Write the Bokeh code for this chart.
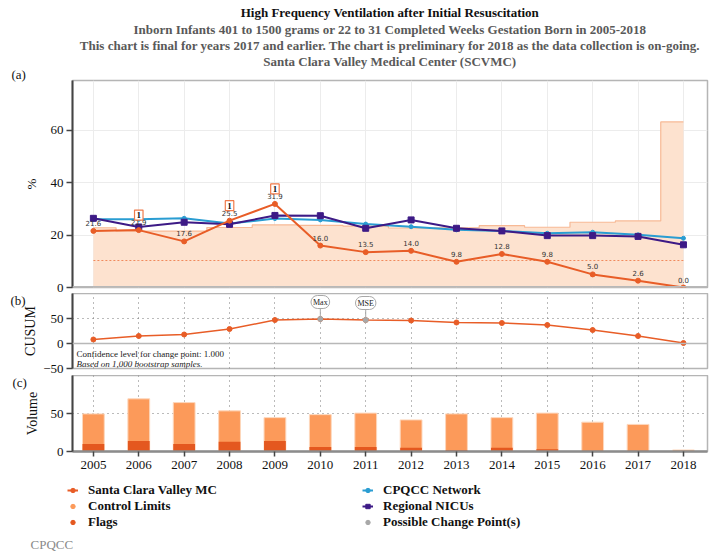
from math import pi
from bokeh.plotting import figure
from bokeh.layouts import column
from bokeh.models import Range1d, FixedTicker, Span, Label, Legend, LegendItem
from bokeh.core.properties import value
from bokeh.embed import file_html
from bokeh.resources import INLINE

# ---------------- data ----------------
years = [2005, 2006, 2007, 2008, 2009, 2010, 2011, 2012, 2013, 2014, 2015, 2016, 2017, 2018]
scv_rate = [21.6, 21.9, 17.6, 25.5, 31.9, 16.0, 13.5, 14.0, 9.8, 12.8, 9.8, 5.0, 2.6, 0.0]
cpqcc_rate = [26.0, 26.0, 26.4, 24.4, 26.3, 25.8, 24.2, 23.2, 22.0, 21.6, 20.7, 21.1, 20.1, 18.8]
regional_rate = [26.4, 23.1, 24.9, 24.1, 27.5, 27.4, 22.6, 25.8, 22.6, 21.6, 19.8, 19.8, 19.5, 16.3]
ucl = [22.8, 21.5, 21.5, 22.9, 23.9, 23.7, 23.4, 22.7, 22.8, 23.6, 23.0, 24.9, 25.4, 63.2]
lcl = [0.0, 0.0, 0.0, 0.0, 0.0, 0.0, 0.0, 0.0, 0.0, 0.0, 0.0, 0.0, 0.0, 0.0]
center = [10.3, 10.3, 10.3, 10.3, 10.3, 10.3, 10.3, 10.3, 10.3, 10.3, 10.3, 10.3, 10.3, 10.3]
flags = [0, 1, 0, 1, 1, 0, 0, 0, 0, 0, 0, 0, 0, 0]

cusum = [8, 15, 18, 29, 47, 49, 47, 46, 42, 41, 37, 27, 15, 1]
cp_years = [2010, 2011]
cp_labels = ["Max", "MSE"]

volume_total = [50, 70, 65, 54, 45, 49, 51, 42, 50, 45, 51, 39, 36, 2]
volume_events = [10, 14, 10, 13, 14, 6, 6, 5, 2, 5, 3, 1, 1, 0]

title_lines = [
    "High Frequency Ventilation after Initial Resuscitation",
    "Inborn Infants 401 to 1500 grams or 22 to 31 Completed Weeks Gestation Born in 2005-2018",
    "This chart is final for years 2017 and earlier. The chart is preliminary for 2018 as the data collection is on-going.",
    "Santa Clara Valley Medical Center (SCVMC)",
]
legend_left = ["Santa Clara Valley MC", "Control Limits", "Flags"]
legend_right = ["CPQCC Network", "Regional NICUs", "Possible Change Point(s)"]

# ---------------- style ----------------
SERIF = "Liberation Serif"
ORANGE = "#e85d27"
BLUE = "#2a9dd2"
PURPLE = "#3d1a86"
BAND = "#fde2cf"
BAND_LINE = "#f7b995"
BAR_LIGHT = "#fc9a5a"
BAR_DARK = "#e4581f"
GRAY = "#a8a8a8"

W = 717
FRAME_LEFT = 72
FRAME_RIGHT = 10
x_rng = (2004.54, 2018.53)
frame_w = W - FRAME_LEFT - FRAME_RIGHT


def base_fig(height, y0, y1, top, bottom, x_axis=False):
    p = figure(width=W, height=height, output_backend="svg", toolbar_location=None,
               x_range=Range1d(*x_rng), y_range=Range1d(y0, y1),
               x_axis_location="below" if x_axis else None,
               min_border_left=FRAME_LEFT, min_border_right=FRAME_RIGHT,
               min_border_top=top, min_border_bottom=bottom)
    p.outline_line_color = "#b5b5b5"
    p.outline_line_width = 1.5
    p.background_fill_color = "white"
    p.border_fill_color = "white"
    ax = p.yaxis[0]
    ax.axis_line_color = "#444444"
    ax.axis_line_width = 2
    ax.major_tick_line_color = "#444444"
    ax.major_tick_line_width = 1.5
    ax.major_tick_out = 6
    ax.major_tick_in = 0
    ax.minor_tick_line_color = None
    ax.major_label_text_font = SERIF
    ax.major_label_text_font_size = "13px"
    ax.major_label_text_color = "#111111"
    ax.major_label_standoff = 3
    ax.axis_label_text_font = SERIF
    ax.axis_label_text_font_style = "normal"
    ax.axis_label_text_color = "#111111"
    return p


def panel_tag(p, text, y):
    p.add_layout(Label(x=5, y=y, x_units="screen", y_units="screen", text=text,
                       text_baseline="middle", text_font=SERIF, text_font_size="13px",
                       text_color="#111111"), "left")


# ---------------- panel (a) ----------------
pa = base_fig(293, 0, 79, 80, 6)
pa.yaxis.ticker = FixedTicker(ticks=[0, 20, 40, 60])
pa.yaxis.axis_label = "%"
pa.yaxis.axis_label_text_font_size = "13px"
pa.yaxis.axis_label_standoff = 9
pa.xgrid.ticker = FixedTicker(ticks=years)
pa.xgrid.grid_line_color = "#ececec"
pa.ygrid.grid_line_color = "#ececec"

pa.varea_step(x=years, y1=lcl, y2=ucl, step_mode="center", fill_color=BAND, fill_alpha=1.0)
pa.step(x=years, y=ucl, mode="center", line_color=BAND_LINE, line_width=1.2)
pa.line(x=years, y=center, line_color="#f08a5d", line_width=1, line_dash="2 2")
pa.add_layout(Span(location=0, dimension="width", line_color="#b8b8b8", line_width=3))

pa.line(x=years, y=cpqcc_rate, line_color=BLUE, line_width=2)
pa.scatter(x=years, y=cpqcc_rate, marker="circle", size=4, color=BLUE)
pa.line(x=years, y=regional_rate, line_color=PURPLE, line_width=2)
pa.scatter(x=years, y=regional_rate, marker="square", size=6, color=PURPLE)
pa.line(x=years, y=scv_rate, line_color=ORANGE, line_width=2)
pa.scatter(x=years, y=scv_rate, marker="circle", size=5, color=ORANGE)

pa.text(x=years, y=scv_rate, text=["%.1f" % v for v in scv_rate], y_offset=-8,
        text_align="center", text_baseline="middle", text_font=value("DejaVu Sans"),
        text_font_size="7px", text_color="#333333")

flag_years = [y for y, f in zip(years, flags) if f]
flag_vals = [v for v, f in zip(scv_rate, flags) if f]
pa.text(x=flag_years, y=flag_vals, text=["1" for _ in flag_years], y_offset=-15,
        text_align="center", text_baseline="middle", text_font=value(SERIF),
        text_font_size="9px", text_font_style="bold", text_color="#111111",
        border_line_color="#f07a4a", border_line_width=1.2,
        background_fill_color="white", padding=2)

# titles in the above panel (first added sits next to the frame)
pa.add_layout(Label(x=frame_w / 2, y=59, x_units="screen", y_units="screen",
                    text="\n".join(title_lines[1:]), text_align="center", text_baseline="top",
                    text_font=SERIF, text_font_size="13px", text_font_style="bold",
                    text_line_height=1.08, text_color="#595959"), "above")
pa.add_layout(Label(x=frame_w / 2, y=21, x_units="screen", y_units="screen",
                    text=title_lines[0], text_align="center", text_baseline="middle",
                    text_font=SERIF, text_font_size="13px", text_font_style="bold",
                    text_color="#111111"), "above")
panel_tag(pa, "(a)", 213)

# ---------------- panel (b) ----------------
pb = base_fig(82, -50, 100, 0, 7)
pb.yaxis.ticker = FixedTicker(ticks=[-50, 0, 50])
pb.yaxis.axis_label = "CUSUM"
pb.yaxis.axis_label_text_font_size = "14px"
pb.yaxis.axis_label_standoff = 2
pb.xgrid.ticker = FixedTicker(ticks=years)
pb.ygrid.ticker = FixedTicker(ticks=[50])
for g in (pb.xgrid[0], pb.ygrid[0]):
    g.grid_line_color = "#777777"
    g.grid_line_dash = "1 4"
    g.grid_line_width = 1
pb.add_layout(Span(location=0, dimension="width", line_color="#b8b8b8", line_width=1.5))

pb.line(x=years, y=cusum, line_color=ORANGE, line_width=1.5)
pb.scatter(x=years, y=cusum, marker="circle", size=5, color=ORANGE)
cp_vals = [cusum[years.index(y)] for y in cp_years]
pb.scatter(x=cp_years, y=cp_vals, marker="circle", size=5, color=GRAY)
pb.ray(x=cp_years, y=cp_vals, length=10, angle=pi / 2, length_units="screen",
       line_color=GRAY, line_width=1)
pb.text(x=cp_years, y=cp_vals, text=cp_labels, y_offset=-17, text_align="center",
        text_baseline="middle", text_font=value(SERIF), text_font_size="8px",
        text_color="#222222", background_fill_color="white", border_line_color=GRAY,
        border_line_width=1, border_radius=7, padding=2)

pb.add_layout(Label(x=4, y=15, x_units="screen", y_units="screen",
                    text="Confidence level for change point: 1.000", text_baseline="middle",
                    text_font=SERIF, text_font_size="9px", text_color="#222222"))
pb.add_layout(Label(x=4, y=5, x_units="screen", y_units="screen",
                    text="Based on 1,000 bootstrap samples.", text_baseline="middle",
                    text_font=SERIF, text_font_size="9px", text_font_style="italic",
                    text_color="#222222"))
panel_tag(pb, "(b)", 68)

# ---------------- panel (c) ----------------
pc = base_fig(102, 0, 101, 0, 26, x_axis=True)
pc.yaxis.ticker = FixedTicker(ticks=[0, 50])
pc.yaxis.axis_label = "Volume"
pc.yaxis.axis_label_text_font_size = "14px"
pc.yaxis.axis_label_standoff = 8
pc.xgrid.ticker = FixedTicker(ticks=years)
pc.ygrid.ticker = FixedTicker(ticks=[50])
for g in (pc.xgrid[0], pc.ygrid[0]):
    g.grid_line_color = "#777777"
    g.grid_line_dash = "1 4"
    g.grid_line_width = 1
xa = pc.xaxis[0]
xa.ticker = FixedTicker(ticks=years)
xa.axis_line_color = "#8c8c8c"
xa.axis_line_width = 2.5
xa.major_tick_line_color = "#444444"
xa.major_tick_line_width = 1.5
xa.major_tick_out = 5
xa.major_tick_in = 0
xa.minor_tick_line_color = None
xa.major_label_text_font = SERIF
xa.major_label_text_font_size = "13px"
xa.major_label_text_color = "#111111"
xa.major_label_standoff = 4

pc.vbar(x=years, width=0.48, bottom=0, top=volume_total, fill_color=BAR_LIGHT,
        line_color="#fdd7bc", line_width=1)
pc.vbar(x=years, width=0.48, bottom=0, top=volume_events, fill_color=BAR_DARK,
        line_color=None)
panel_tag(pc, "(c)", 69)

# ---------------- legend strip ----------------
pd_ = figure(width=W, height=74, output_backend="svg", toolbar_location=None,
             x_range=Range1d(0, 1), y_range=Range1d(0, 1),
             x_axis_location=None, y_axis_location=None,
             min_border_left=0, min_border_right=0, min_border_top=0, min_border_bottom=0)
try:
    pd_.frame_align = False
except AttributeError:
    pass
pd_.outline_line_color = None
pd_.xgrid.visible = False
pd_.ygrid.visible = False

# hidden proxies (real data) used only to draw the legend glyphs
l_scv = pd_.line(x=years, y=scv_rate, line_color=ORANGE, line_width=2, visible=False)
m_scv = pd_.scatter(x=years, y=scv_rate, marker="circle", size=4, color=ORANGE, visible=False)
m_cl = pd_.scatter(x=years, y=ucl, marker="circle", size=7, color=BAR_LIGHT, visible=False)
m_fl = pd_.scatter(x=years, y=volume_events, marker="circle", size=7, color=BAR_DARK, visible=False)
l_net = pd_.line(x=years, y=cpqcc_rate, line_color=BLUE, line_width=2, visible=False)
m_net = pd_.scatter(x=years, y=cpqcc_rate, marker="circle", size=4, color=BLUE, visible=False)
l_reg = pd_.line(x=years, y=regional_rate, line_color=PURPLE, line_width=2, visible=False)
m_reg = pd_.scatter(x=years, y=regional_rate, marker="square", size=5, color=PURPLE, visible=False)
m_cp = pd_.scatter(x=cp_years, y=cp_vals, marker="circle", size=7, color=GRAY, visible=False)


def make_legend(labels, renderers, loc):
    lg = Legend(items=[LegendItem(label=t, renderers=r) for t, r in zip(labels, renderers)],
                location=loc, orientation="vertical")
    lg.border_line_color = None
    lg.background_fill_alpha = 0
    lg.inactive_fill_alpha = 0
    lg.padding = 0
    lg.margin = 0
    lg.spacing = 0
    lg.label_height = 16
    lg.glyph_height = 12
    lg.glyph_width = 11
    lg.label_standoff = 10
    lg.label_text_font = SERIF
    lg.label_text_font_size = "13px"
    lg.label_text_font_style = "bold"
    lg.label_text_color = "#111111"
    lg.label_text_baseline = "middle"
    return lg


pd_.add_layout(make_legend(legend_left, [[l_scv, m_scv], [m_cl], [m_fl]], (67, 21)))
pd_.add_layout(make_legend(legend_right, [[l_net, m_net], [l_reg, m_reg], [m_cp]], (362, 21)))
pd_.add_layout(Label(x=30, y=7, x_units="screen", y_units="screen", text="CPQCC",
                     text_baseline="middle", text_font=SERIF, text_font_size="13px",
                     text_color="#8a8a8a"))

layout = column(pa, pb, pc, pd_, spacing=0)
open("out.html", "w").write(file_html(layout, INLINE))
